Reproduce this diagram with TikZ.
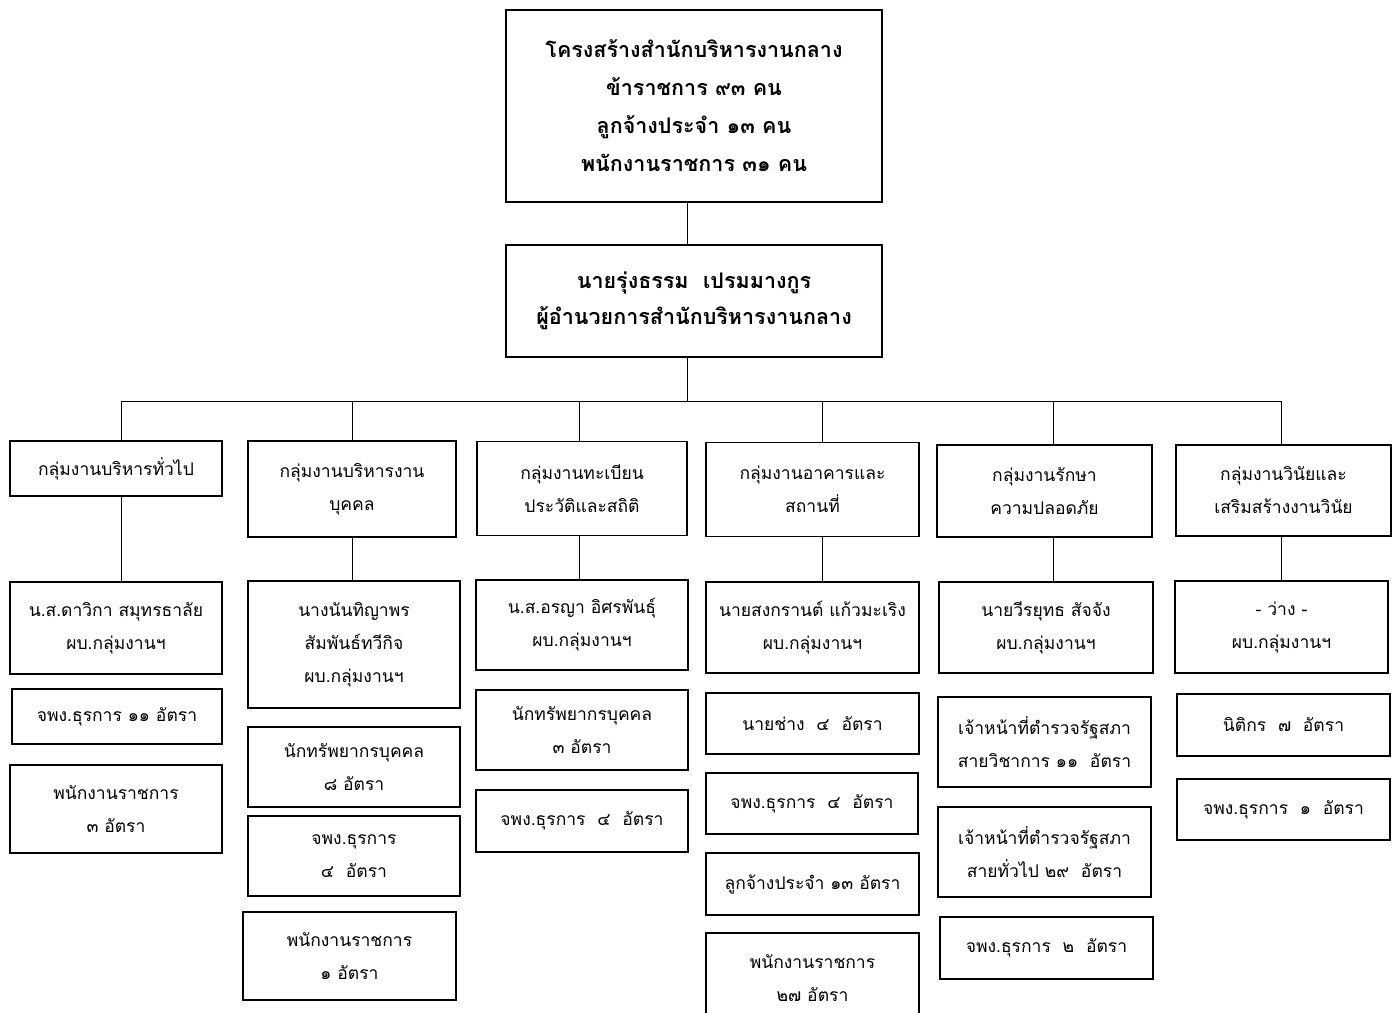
\documentclass[tikz,border=0pt]{standalone}
\usepackage{fontspec}
\newfontfamily\thaifont[Script=Thai]{Loma}
\usepackage{tikz}
\tikzset{
	orgnode/.style = {
		align=center,
		inner sep=2pt,
		text centered,
		font=\thaifont\fontsize{17.5}{33}\selectfont,
		rectangle,
		draw=black,
		line width=1.6pt
	},
	node_top/.style = {
		orgnode,
		font=\thaifont\bfseries\fontsize{21.5}{38}\selectfont,
		minimum width=376pt
	},
	node_grp/.style = {
		orgnode,
		minimum width=212pt,
		minimum height=94pt
	},
	node_head/.style = {
		orgnode,
		minimum width=213pt,
		minimum height=91pt
	},
	node_sub/.style = {
		orgnode,
		minimum width=213pt,
		minimum height=61pt
	},
	node_sub2/.style = {
		node_sub,
		minimum height=88pt
	},
	link/.style = {
		draw=black,
		line width=1pt
	},
}

\begin{document}
\begin{tikzpicture}[x=1pt,y=-1pt]
\useasboundingbox (0,0) rectangle (1397,1012);
\clip (0,0) rectangle (1397,1012);

\node [node_top, minimum height=192pt] (top) at (694,106) {โครงสร้างสำนักบริหารงานกลาง\\ข้าราชการ ๙๓ คน\\ลูกจ้างประจำ ๑๓ คน\\พนักงานราชการ ๓๑ คน};
\node [node_top, font=\thaifont\bfseries\fontsize{21.5}{36}\selectfont, minimum height=112pt] (dir) at (694,301) {นายรุ่งธรรม\ \ เปรมมางกูร\\ผู้อำนวยการสำนักบริหารงานกลาง};

\coordinate (b0) at (687,401);
\coordinate (b1) at (121,401);
\coordinate (b2) at (352,401);
\coordinate (b3) at (579,401);
\coordinate (b4) at (822,401);
\coordinate (b5) at (1053,401);
\coordinate (b6) at (1281,401);

\node [node_grp, minimum height=55pt] (g1) at (116,468.5) {กลุ่มงานบริหารทั่วไป};
\node [node_grp, minimum width=208pt, minimum height=96pt] (g2) at (352,489) {กลุ่มงานบริหารงาน\\บุคคล};
\node [node_grp, minimum width=210pt] (g3) at (582,488.5) {กลุ่มงานทะเบียน\\ประวัติและสถิติ};
\node [node_grp, minimum width=213pt] (g4) at (812.5,489.5) {กลุ่มงานอาคารและ\\สถานที่};
\node [node_grp, minimum width=215pt, minimum height=92pt] (g5) at (1044.5,491) {กลุ่มงานรักษา\\ความปลอดภัย};
\node [node_grp, minimum width=215pt, minimum height=91pt] (g6) at (1283.5,490.5) {กลุ่มงานวินัยและ\\เสริมสร้างงานวินัย};

\node [node_head, minimum width=212pt, minimum height=92pt] (h1) at (116,628) {น.ส.ดาวิกา สมุทรธาลัย\\ผบ.กลุ่มงานฯ};
\node [node_head, minimum width=212pt, minimum height=127pt] (h2) at (354,644.5) {นางนันทิญาพร\\สัมพันธ์ทวีกิจ\\ผบ.กลุ่มงานฯ};
\node [node_head, minimum width=212pt, minimum height=90pt] (h3) at (582,625) {น.ส.อรญา อิศรพันธุ์\\ผบ.กลุ่มงานฯ};
\node [node_head] (h4) at (812.5,627.5) {นายสงกรานต์ แก้วมะเริง\\ผบ.กลุ่มงานฯ};
\node [node_head, minimum width=214pt] (h5) at (1046,627.5) {นายวีรยุทธ สัจจัง\\ผบ.กลุ่มงานฯ};
\node [node_head, minimum height=92pt] (h6) at (1281.5,627) {- ว่าง -\\ผบ.กลุ่มงานฯ};

\node [node_sub, minimum width=210pt, minimum height=55pt] (s1a) at (117,716.5) {จพง.ธุรการ ๑๑ อัตรา};
\node [node_sub2, minimum width=212pt] (s1b) at (116,809) {พนักงานราชการ\\๓ อัตรา};

\node [node_sub2, minimum width=212pt, minimum height=80pt] (s2a) at (354,767) {นักทรัพยากรบุคคล\\๘ อัตรา};
\node [node_sub2, minimum width=212pt, minimum height=80pt] (s2b) at (354,856) {จพง.ธุรการ\\๔\ \ อัตรา};
\node [node_sub2] (s2c) at (349.5,956) {พนักงานราชการ\\๑ อัตรา};

\node [node_sub2, minimum width=212pt, minimum height=80pt] (s3a) at (582,730) {นักทรัพยากรบุคคล\\๓ อัตรา};
\node [node_sub, minimum width=212pt, minimum height=62pt] (s3b) at (582,821) {จพง.ธุรการ\ \ ๔\ \ อัตรา};

\node [node_sub] (s4a) at (812.5,723.5) {นายช่าง\ \ ๔\ \ อัตรา};
\node [node_sub, minimum width=212pt] (s4b) at (812,803.5) {จพง.ธุรการ\ \ ๔\ \ อัตรา};
\node [node_sub, minimum height=62pt] (s4c) at (812.5,884) {ลูกจ้างประจำ ๑๓ อัตรา};
\node [node_sub2, minimum height=91pt] (s4d) at (812.5,978.5) {พนักงานราชการ\\๒๗ อัตรา};

\node [node_sub2, minimum height=90pt] (s5a) at (1044.5,742) {เจ้าหน้าที่ตำรวจรัฐสภา\\สายวิชาการ ๑๑\ \ อัตรา};
\node [node_sub2, minimum height=90pt] (s5b) at (1044.5,852) {เจ้าหน้าที่ตำรวจรัฐสภา\\สายทั่วไป ๒๙\ \ อัตรา};
\node [node_sub, minimum height=62pt] (s5c) at (1046.5,948) {จพง.ธุรการ\ \ ๒\ \ อัตรา};

\node [node_sub, minimum height=62pt] (s6a) at (1283.5,725) {นิติกร\ \ ๗\ \ อัตรา};
\node [node_sub] (s6b) at (1283.5,809.5) {จพง.ธุรการ\ \ ๑\ \ อัตรา};

\draw [link] (b0 |- top.south) -- (b0 |- dir.north);
\draw [link] (b0 |- dir.south) -- (b0);
\draw [link] (b1) -- (b6);
\foreach \i in {1,...,6} {
	\draw [link] (b\i) -- (b\i |- g\i.north);
	\draw [link] (b\i |- g\i.south) -- (b\i |- h\i.north);
}
\end{tikzpicture}
\end{document}
